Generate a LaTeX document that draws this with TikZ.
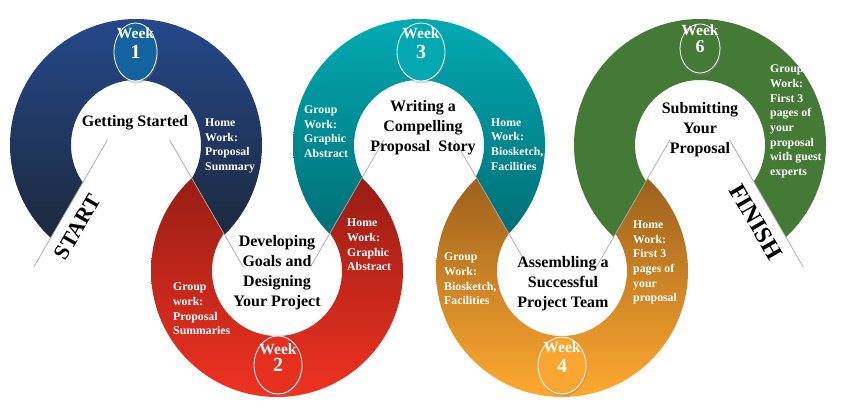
\documentclass[tikz,border=0pt]{standalone}
\usepackage{fontspec}
\setmainfont{Liberation Serif}
\usetikzlibrary{shapes.geometric,shadows}
\definecolor{blueT}{HTML}{25488B}
\definecolor{blueM}{HTML}{0A4A78}
\definecolor{blueB}{HTML}{1C2430}
\definecolor{redT}{HTML}{8C1A12}
\definecolor{redB}{HTML}{F03222}
\definecolor{tealT}{HTML}{02AAB2}
\definecolor{tealB}{HTML}{00646C}
\definecolor{orgT}{HTML}{8E561A}
\definecolor{orgB}{HTML}{FFAA30}
\definecolor{grnC}{HTML}{457A36}
\definecolor{wkA}{HTML}{14629E}
\definecolor{wkB}{HTML}{E6301F}
\definecolor{wkC}{HTML}{04A8B0}
\definecolor{wkD}{HTML}{F9A531}
\definecolor{wkE}{HTML}{457A36}
\definecolor{guidegray}{HTML}{A8A8A8}
\begin{document}
\begin{tikzpicture}[x=1pt,y=1pt,
  mainlbl/.style={font=\fontsize{16}{20}\selectfont\bfseries,align=center,text=black,inner sep=0pt},
  sidelbl/.style={font=\fontsize{11.8}{14.7}\selectfont\bfseries,align=left,text=white,inner sep=0pt,anchor=west},
  weeklbl/.style={font=\fontsize{15.5}{16}\selectfont\bfseries,text=white,inner sep=0pt},
  numlbl/.style={font=\fontsize{20}{20}\selectfont\bfseries,text=white,inner sep=0pt},
  badge/.style={ellipse,draw=white,line width=0.8pt,inner sep=0pt,
    drop shadow={shadow xshift=1pt,shadow yshift=-2.5pt,opacity=0.3}},
  guide/.style={draw=guidegray,line width=0.7pt},
  ring/.style={even odd rule}]
\useasboundingbox (0,0) rectangle (842,410);

% ring 1 (blue, top)
\begin{scope}
\clip (138.5,323.55) -- (-78.2,-50) -- (-232,-50) -- (-232,460) -- (509,460) -- (509,-50) -- (355.2,-50) -- cycle;
\shade[ring,top color=blueT,middle color=blueM,bottom color=blueB]
  (136,265) ++(126,0) arc[start angle=0,end angle=360,radius=126pt] -- ++(-61,0)
  arc[start angle=360,end angle=0,radius=65pt] -- cycle;
\end{scope}
% ring 2 (red, bottom)
\begin{scope}
\clip (276.75,85.2) -- (59.4,460) -- (-91,460) -- (-91,-50) -- (644.5,-50) -- (644.5,460) -- (494.1,460) -- cycle;
\shade[ring,top color=redT,bottom color=redB]
  (277,139) ++(126,0) arc[start angle=0,end angle=360,radius=126pt] -- ++(-61,0)
  arc[start angle=360,end angle=0,radius=65pt] -- cycle;
\end{scope}
% ring 3 (teal, top)
\begin{scope}
\clip (419.25,330.88) -- (198.3,-50) -- (44.5,-50) -- (44.5,460) -- (794,460) -- (794,-50) -- (640.2,-50) -- cycle;
\shade[ring,top color=tealT,bottom color=tealB]
  (419,265) ++(126,0) arc[start angle=0,end angle=360,radius=126pt] -- ++(-61,0)
  arc[start angle=360,end angle=0,radius=65pt] -- cycle;
\end{scope}
% ring 4 (orange, bottom)
\begin{scope}
\clip (562.25,84.33) -- (344.4,460) -- (194,460) -- (194,-50) -- (930.5,-50) -- (930.5,460) -- (780.1,460) -- cycle;
\shade[ring,top color=orgT,bottom color=orgB]
  (562,139) ++(126,0) arc[start angle=0,end angle=360,radius=126pt] -- ++(-61,0)
  arc[start angle=360,end angle=0,radius=65pt] -- cycle;
\end{scope}
% ring 5 (green, top)
\begin{scope}
\clip (699.75,321.4) -- (484.3,-50) -- (330.5,-50) -- (330.5,460) -- (1069,460) -- (1069,-50) -- (915.2,-50) -- cycle;
\fill[ring,grnC]
  (700,265) ++(126,0) arc[start angle=0,end angle=360,radius=126pt] -- ++(-61,0)
  arc[start angle=360,end angle=0,radius=65pt] -- cycle;
\end{scope}

% guide lines
\coordinate (l1t) at (107.4,270); \coordinate (l1b) at (33.8,143);
\coordinate (l2t) at (169.6,270); \coordinate (l2b) at (243.2,143);
\coordinate (l3t) at (383.9,270); \coordinate (l3b) at (310.3,143);
\coordinate (l4t) at (454.6,270); \coordinate (l4b) at (528.2,143);
\coordinate (l5t) at (669.9,270); \coordinate (l5b) at (596.3,143);
\coordinate (l6t) at (729.6,270); \coordinate (l6b) at (803.2,143);
\draw[guide] (l1t) -- (l1b);
\draw[guide] (l2t) -- (l2b);
\draw[guide] (l3t) -- (l3b);
\draw[guide] (l4t) -- (l4b);
\draw[guide] (l5t) -- (l5b);
\draw[guide] (l6t) -- (l6b);

% week badges
\node[badge,fill=wkA,minimum width=43pt,minimum height=58pt] (b1) at (135.5,358) {};
\node[weeklbl] (w1) at (135.5,377) {Week};
\node[numlbl] (n1) at (135.5,358) {1};
\node[badge,fill=wkB,minimum width=48pt,minimum height=58pt] (b2) at (278,45) {};
\node[weeklbl] (w2) at (278,61) {Week};
\node[numlbl] (n2) at (278,45) {2};
\node[badge,fill=wkC,minimum width=48pt,minimum height=58pt] (b3) at (421,358) {};
\node[weeklbl] (w3) at (421,377) {Week};
\node[numlbl] (n3) at (421,358) {3};
\node[badge,fill=wkD,minimum width=48pt,minimum height=57pt] (b4) at (562,44.5) {};
\node[weeklbl] (w4) at (562,63) {Week};
\node[numlbl] (n4) at (562,44) {4};
\node[badge,fill=wkE,minimum width=40pt,minimum height=49pt] (b6) at (700,361.5) {};
\node[weeklbl] (w6) at (700,380) {Week};
\node[numlbl,font=\fontsize{18}{18}\selectfont\bfseries] (n6) at (700,363) {6};

% main labels
\node[mainlbl] (m1) at (135,287) {Getting Started};
\node[mainlbl] (m2) at (277,137) {Developing\\Goals and\\Designing\\Your Project};
\node[mainlbl] (m3) at (423,282) {Writing a\\Compelling\\Proposal~ Story};
\node[mainlbl] (m4) at (563,126) {Assembling a\\Successful\\Project Team};
\node[mainlbl] (m5) at (700,280) {Submitting\\Your\\Proposal};

% side labels
\node[sidelbl] (h1) at (205,264) {Home\\Work:\\Proposal\\Summary};
\node[sidelbl] (h2) at (347,165) {Home\\Work:\\Graphic\\Abstract};
\node[sidelbl] (g2) at (173,101) {Group\\work:\\Proposal\\Summaries};
\node[sidelbl] (g3) at (304,278.3) {Group\\Work:\\Graphic\\Abstract};
\node[sidelbl] (h3) at (491,265.5) {Home\\Work:\\Biosketch,\\Facilities};
\node[sidelbl] (g4) at (444,131) {Group\\Work:\\Biosketch,\\Facilities};
\node[sidelbl] (h4) at (633,147.5) {Home\\Work:\\First 3\\pages of\\your\\proposal};
\node[sidelbl] (g5) at (770,288.5) {Group\\Work:\\First 3\\pages of\\your\\proposal\\with guest\\experts};

% start / finish
\node[font=\fontsize{22}{22}\selectfont\bfseries,inner sep=0pt,rotate=60] (start) at (77.5,183) {START};
\node[font=\fontsize{24}{24}\selectfont\bfseries,inner sep=0pt,rotate=-60] (finish) at (756,188) {FINISH};
\end{tikzpicture}
\end{document}
